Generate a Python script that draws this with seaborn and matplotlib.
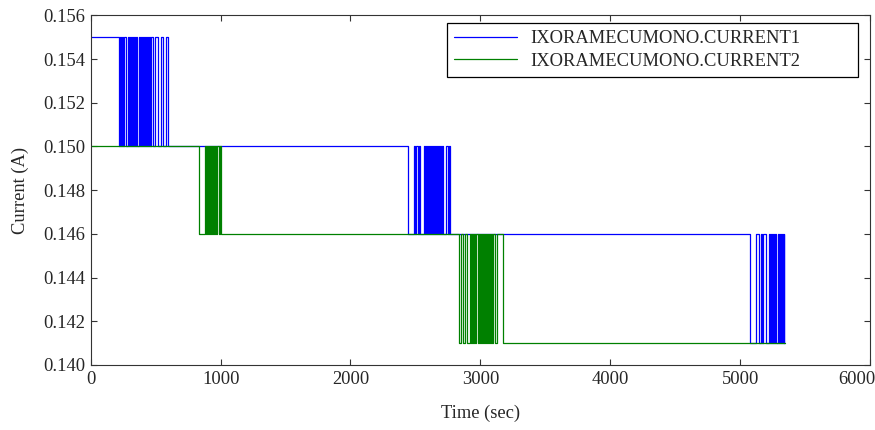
import numpy as np
import pandas as pd
import seaborn as sns
import matplotlib.pyplot as plt
import matplotlib.transforms as mtransforms

# ---------------- data ----------------
series_names = ["IXORAMECUMONO.CURRENT1", "IXORAMECUMONO.CURRENT2"]
end_time = 5342

# CURRENT1: levels per switching segment (high, low) and switching instants (sec)
c1_levels = [(0.155, 0.150), (0.150, 0.146), (0.146, 0.141)]
c1_toggles = [
    [218, 226, 234, 242, 250, 258, 270,
     288, 296, 304, 312, 320, 328, 336, 344, 352, 360, 368, 376, 384, 392,
     400, 408, 416, 424, 432, 440, 448, 456, 464,
     481, 494, 520, 541, 558, 576, 597],
    [2440, 2492, 2500, 2508, 2516, 2524, 2532,
     2564, 2572, 2580, 2588, 2596, 2604, 2612, 2620, 2628, 2636, 2644, 2652,
     2660, 2668, 2676, 2684, 2692, 2700, 2708, 2716,
     2732, 2748, 2756, 2764],
    [5076, 5121, 5147, 5161, 5169, 5177, 5199,
     5224, 5232, 5240, 5248, 5256, 5264, 5272, 5280, 5288, 5296, 5304, 5312,
     5320, 5328, 5336, 5340],
]

# CURRENT2
c2_levels = [(0.150, 0.146), (0.146, 0.141)]
c2_toggles = [
    [837, 880, 888, 896, 904, 912, 920, 928, 936, 944, 952, 960, 968, 976,
     984, 992, 1000],
    [2834, 2848, 2865, 2879, 2896, 2917,
     2930, 2938, 2946, 2954, 2962, 2970, 2978, 2986, 2994, 3002, 3010, 3018,
     3026, 3034, 3042, 3050, 3058, 3066, 3074, 3082, 3090, 3098,
     3110, 3128, 3175],
]

x_ticks = [0, 1000, 2000, 3000, 4000, 5000, 6000]
y_ticks = [0.140, 0.142, 0.144, 0.146, 0.148, 0.150, 0.152, 0.154, 0.156]


def build_steps(levels, toggles):
    t = [0]
    v = [levels[0][0]]
    for (hi, lo), times in zip(levels, toggles):
        state = hi
        for tt in times:
            state = lo if state == hi else hi
            t.append(tt)
            v.append(state)
    t.append(end_time)
    v.append(v[-1])
    return pd.DataFrame({"t": t, "v": v})


df1 = build_steps(c1_levels, c1_toggles)
df2 = build_steps(c2_levels, c2_toggles)

# ---------------- style ----------------
sns.set_style("ticks")
plt.rcParams["font.family"] = ["Liberation Serif", "DejaVu Serif"]
plt.rcParams["xtick.direction"] = "in"
plt.rcParams["ytick.direction"] = "in"
plt.rcParams["xtick.top"] = True
plt.rcParams["ytick.right"] = True

FS = 13.3

fig = plt.figure(figsize=(8.75, 4.30), dpi=100)
ax = fig.add_axes([0.1037, 0.1512, 0.8906, 0.813])

sns.lineplot(data=df1, x="t", y="v", ax=ax, color="#0000ff", lw=0.9,
             drawstyle="steps-post", estimator=None, sort=False,
             label=series_names[0])
sns.lineplot(data=df2, x="t", y="v", ax=ax, color="#008000", lw=0.9,
             drawstyle="steps-post", estimator=None, sort=False,
             label=series_names[1])

ax.set_xlim(0, 6000)
ax.set_ylim(0.140, 0.156)
ax.set_xticks(x_ticks)
ax.set_yticks(y_ticks)
ax.set_xticklabels([str(x) for x in x_ticks])
ax.set_yticklabels([f"{y:.3f}" for y in y_ticks])
ax.tick_params(axis="both", labelsize=FS, length=4.5, width=0.8,
               color="#333333", pad=4)
for s in ax.spines.values():
    s.set_color("#333333")
    s.set_linewidth(0.8)

# last x tick label kept inside the figure, as in the reference
last = ax.get_xticklabels()[-1]
last.set_transform(last.get_transform() +
                   mtransforms.ScaledTranslation(-13 / 100, 0, fig.dpi_scale_trans))

ax.set_xlabel("Time (sec)", fontsize=FS, labelpad=12)
ax.set_ylabel("Current (A)", fontsize=FS, labelpad=10)

leg = ax.legend(loc="upper left", bbox_to_anchor=(0.457, 0.0, 0.528, 0.979),
                mode="expand", fontsize=FS, frameon=True, fancybox=False,
                framealpha=1, edgecolor="black", handlelength=3.4,
                borderpad=0.4, labelspacing=0.3, handletextpad=0.7,
                borderaxespad=0)
leg.get_frame().set_linewidth(0.9)

fig.savefig("out.png", dpi=100)
